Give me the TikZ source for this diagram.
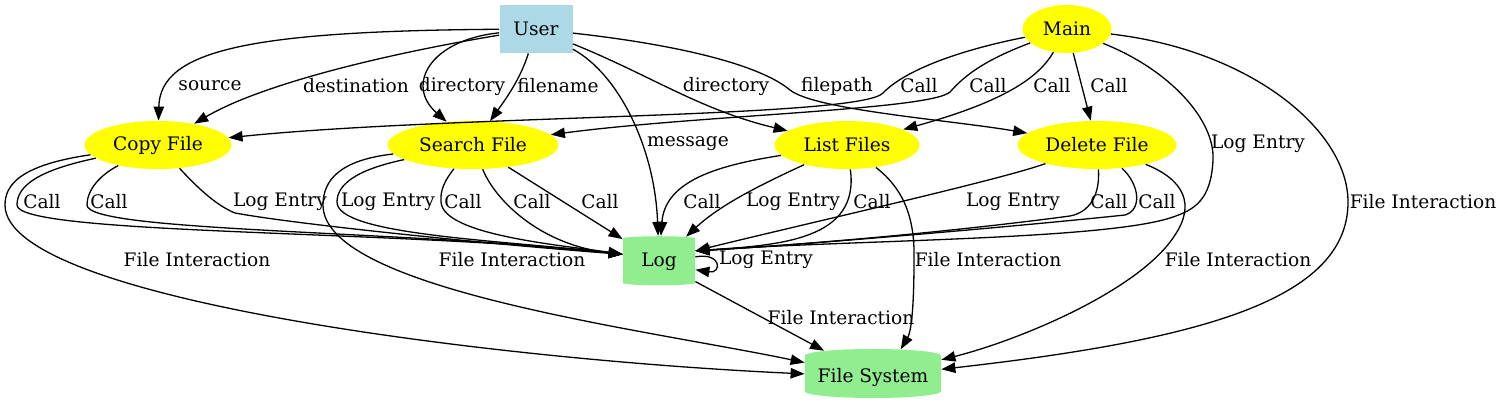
\documentclass[tikz,border=0pt]{standalone}
\usepackage{fontspec}
\setmainfont{DejaVu Serif}
\usetikzlibrary{shapes.geometric,arrows.meta}
\definecolor{lightblue}{HTML}{ADD8E6}
\definecolor{lightgreen}{HTML}{90EE90}
\definecolor{gvyellow}{RGB}{255,255,0}

\begin{document}
\begin{tikzpicture}[x=0.5pt,y=-0.5pt,
  font=\fontsize{9.3}{11}\selectfont,
  link/.style={draw, line width=0.65pt, -{Triangle[length=7pt,width=5.2pt]}},
  lbl/.style={inner sep=0pt},
  proc/.style={ellipse, fill=gvyellow, inner sep=0pt, minimum height=24pt},
  store/.style={cylinder, shape border rotate=90, aspect=0.12, fill=lightgreen, inner sep=0pt},
]
\useasboundingbox (0,0) rectangle (1502,407);

\node[fill=lightblue, minimum width=36.5pt, minimum height=24pt] (user) at (536,29) {User};
\node[proc, minimum width=44.5pt] (main) at (1067,29) {Main};
\node[proc, minimum width=73.5pt] (copy) at (158,145) {Copy File};
\node[proc, minimum width=85.5pt] (search) at (473,145) {Search File};
\node[proc, minimum width=72.5pt] (list) at (847,145) {List Files};
\node[proc, minimum width=79.5pt] (delete) at (1097,145) {Delete File};
\node[store, minimum width=36pt, minimum height=24.5pt] (log) at (659,262) {Log};
\node[store, minimum width=68pt, minimum height=24.5pt] (fs) at (873,377) {File System};

% user inputs
\path[link] (user) .. controls (250,31) and (160,50) .. (copy) node[lbl] at (210,86) {source};
\path[link] (user) .. controls (380,55) and (260,85) .. (copy) node[lbl] at (356,86) {destination};
\path[link] (user) .. controls (430,40) and (405,85) .. (search) node[lbl] at (462,86) {directory};
\path[link] (user) .. controls (520,80) and (505,100) .. (search) node[lbl] at (558,86) {filename};
\path[link] (user) .. controls (620,75) and (655,150) .. (log) node[lbl] at (688,144) {message};
\path[link] (user) .. controls (650,75) and (700,110) .. (list) node[lbl] at (726,86) {directory};
\path[link] (user) .. controls (680,45) and (760,65) .. (790,90) .. controls (815,110) and (950,120) .. (delete) node[lbl] at (837,86) {filepath};

% main calls
\path[link] (main) .. controls (960,50) and (905,70) .. (883,93) .. controls (860,118) and (450,115) .. (copy) node[lbl] at (919,86) {Call};
\path[link] (main) .. controls (985,60) and (965,75) .. (950,92) .. controls (930,110) and (700,115) .. (search) node[lbl] at (988,86) {Call};
\path[link] (main) .. controls (1040,75) and (1010,100) .. (list) node[lbl] at (1052,86) {Call};
\path[link] (main) -- (delete) node[lbl] at (1109,86) {Call};
\path[link] (main) .. controls (1170,70) and (1215,120) .. (1213,160) .. controls (1211,200) and (1195,210) .. (1170,218) .. controls (1100,240) and (850,240) .. (log.17) node[lbl] at (1258,144) {Log Entry};
\path[link] (main) .. controls (1250,50) and (1348,130) .. (1348,202) .. controls (1348,300) and (1200,340) .. (fs) node[lbl] at (1423,202) {File Interaction};

% copy file
\path[link] (copy) .. controls (40,170) and (17,185) .. (17,205) .. controls (17,235) and (400,230) .. (log.168) node[lbl] at (42,202) {Call};
\path[link] (copy) .. controls (100,175) and (87,190) .. (87,205) .. controls (87,232) and (400,230) .. (log.168) node[lbl] at (109,202) {Call};
\path[link] (copy) .. controls (195,185) and (215,205) .. (235,213) .. controls (300,225) and (500,245) .. (log.168) node[lbl] at (280,202) {Log Entry};
\path[link] (copy) .. controls (20,165) and (5,185) .. (5,205) .. controls (5,300) and (500,360) .. (fs) node[lbl] at (197,260) {File Interaction};

% search file
\path[link] (search) .. controls (340,160) and (323,180) .. (323,205) .. controls (323,290) and (650,330) .. (fs) node[lbl] at (512,260) {File Interaction};
\path[link] (search) .. controls (355,170) and (337,185) .. (337,202) .. controls (337,235) and (500,240) .. (log.168) node[lbl] at (388,202) {Log Entry};
\path[link] (search) .. controls (445,180) and (440,190) .. (441,202) .. controls (443,235) and (560,245) .. (log.168) node[lbl] at (463,202) {Call};
\path[link] (search) .. controls (495,200) and (540,245) .. (log.168) node[lbl] at (532,202) {Call};
\path[link] (search) -- (log) node[lbl] at (600,202) {Call};

% list files
\path[link] (list) .. controls (720,165) and (665,180) .. (log) node[lbl] at (702,202) {Call};
\path[link] (list) .. controls (760,185) and (720,205) .. (log) node[lbl] at (793,202) {Log Entry};
\path[link] (list) .. controls (860,240) and (780,245) .. (log.17) node[lbl] at (872,202) {Call};
\path[link] (list) .. controls (905,190) and (915,220) .. (914,260) .. controls (914,300) and (912,330) .. (fs.45) node[lbl] at (988,260) {File Interaction};

% delete file
\path[link] (delete) .. controls (1000,180) and (800,225) .. (log.17) node[lbl] at (1013,202) {Log Entry};
\path[link] (delete) .. controls (1100,195) and (1090,212) .. (1070,216) .. controls (950,232) and (800,245) .. (log.17) node[lbl] at (1109,202) {Call};
\path[link] (delete) .. controls (1140,185) and (1142,210) .. (1125,215) .. controls (1000,228) and (800,245) .. (log.17) node[lbl] at (1157,202) {Call};
\path[link] (delete) .. controls (1185,180) and (1195,205) .. (1175,235) .. controls (1140,290) and (1020,340) .. (fs) node[lbl] at (1238,260) {File Interaction};

% log
\path[link] (log.8) .. controls (722,252) and (722,274) .. (log.-12) node[lbl] at (766,260) {Log Entry};
\path[link] (log) -- (fs) node[lbl] at (841,318) {File Interaction};
\end{tikzpicture}
\end{document}
